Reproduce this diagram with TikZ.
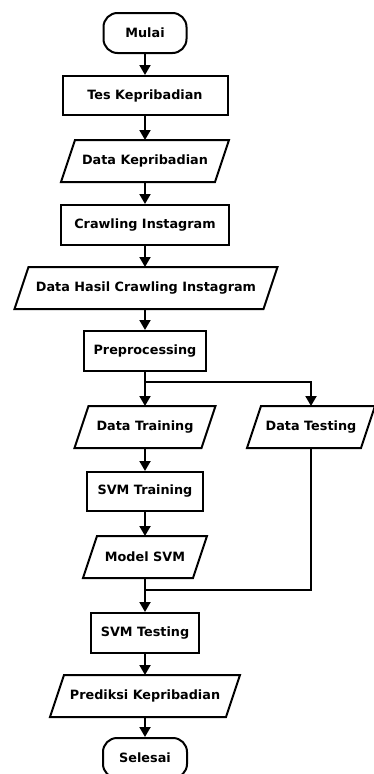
\documentclass[tikz,border=0pt]{standalone}
\usepackage{fontspec}
\setmainfont{DejaVu Sans}
\usetikzlibrary{arrows.meta}
\newcommand{\ioshape}[1]{\draw[line width=2pt,line join=miter] ([xshift=14pt]#1.north west) -- (#1.north east) -- ([xshift=-14pt]#1.south east) -- (#1.south west) -- cycle;}
\begin{document}
\begin{tikzpicture}[x=1pt,y=-1pt,
  base/.style={draw=black,line width=2pt,inner sep=0pt,minimum height=40pt,font=\fontsize{12.8}{14}\selectfont\bfseries,fill=white},
  term/.style={base,rounded corners=14pt},
  proc/.style={base},
  io/.style={base,draw=none,fill=none},
  arr/.style={line width=2pt,-{Triangle[length=10pt,width=11pt]}},
  ln/.style={line width=2pt}]
\useasboundingbox (0,0) rectangle (374,774);
\node[term,minimum width=83pt] (mulai) at (145,33) {Mulai};
\node[proc,minimum width=165pt,minimum height=39pt] (tes) at (145,95.5) {Tes Kepribadian};
\node[io,minimum width=166pt] (datak) at (145,161) {Data Kepribadian};
\node[proc,minimum width=168pt] (crawl) at (145,225) {Crawling Instagram};
\node[io,minimum width=261pt] (hasil) at (146,288) {Data Hasil Crawling Instagram};
\node[proc,minimum width=122pt] (prep) at (145,351) {Preprocessing};
\node[io,minimum width=139pt] (dtrain) at (145,427) {Data Training};
\node[io,minimum width=126pt] (dtest) at (311,427) {Data Testing};
\node[proc,minimum width=116pt,minimum height=39pt] (svmtrain) at (145,491.5) {SVM Training};
\node[io,minimum width=122pt] (model) at (145,557) {Model SVM};
\node[proc,minimum width=108pt] (svmtest) at (145,633) {SVM Testing};
\node[io,minimum width=188pt] (pred) at (145,696) {Prediksi Kepribadian};
\node[term,minimum width=84pt] (selesai) at (145,758) {Selesai};
\ioshape{datak}
\ioshape{hasil}
\ioshape{dtrain}
\ioshape{dtest}
\ioshape{model}
\ioshape{pred}
\coordinate (split) at (145,382);
\coordinate (join) at (145,590);
\draw[arr] (mulai.south) -- (tes.north);
\draw[arr] (tes.south) -- (datak.north);
\draw[arr] (datak.south) -- (crawl.north);
\draw[arr] (crawl.south) -- (hasil.north -| crawl.south);
\draw[arr] (hasil.south -| prep.north) -- (prep.north);
\draw[arr] (prep.south) -- (dtrain.north);
\draw[arr] (split) -| (dtest.north);
\draw[arr] (dtrain.south) -- (svmtrain.north);
\draw[arr] (svmtrain.south) -- (model.north);
\draw[arr] (model.south) -- (svmtest.north);
\draw[ln] (dtest.south) |- (join);
\draw[arr] (svmtest.south) -- (pred.north);
\draw[arr] (pred.south) -- (selesai.north);
\end{tikzpicture}
\end{document}
